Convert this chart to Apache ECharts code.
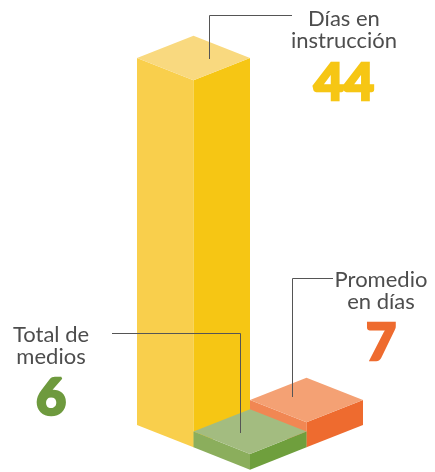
<!DOCTYPE html>
<html><head><meta charset="utf-8">
<script src="https://cdn.jsdelivr.net/npm/echarts@6/dist/echarts.min.js"></script>
<style>html,body{margin:0;padding:0;background:#fff}#c{width:435px;height:472px}</style>
</head><body><div id="c"></div>
<script>
// ---- data ----
const categories = ['Días en\ninstrucción', 'Promedio\nen días', 'Total de\nmedios'];
const values = [44, 7, 6];

// ---- layout (isometric cell of each bar) ----
const cellU = [0, 1, 1];
const cellV = [0, 1, 0];
const axisMin = 4.3;
const faceColors = [
  { top: '#F9D97F', left: '#F9CF4C', right: '#F6C614' },
  { top: '#F4A174', left: '#F18753', right: '#EE6B2F' },
  { top: '#A3BC80', left: '#8BAE5C', right: '#6F9F3D' }
];
const numColors = ['#F6C614', '#EE6B2F', '#6E9A3E'];
const labelPos = [
  { x: 344, textY: 8.3, numY: 83 },
  { x: 381, textY: 269.3, numY: 343 },
  { x: 51, textY: 324.3, numY: 398 }
];
const leaders = [
  [[209.5, 59], [209.5, 15.5], [292, 15.5]],
  [[292.5, 397], [292.5, 278.5], [333, 278.5]],
  [[112, 333.5], [240.5, 333.5], [240.5, 433]]
];

const chart = echarts.init(document.getElementById('c'), null, { renderer: 'canvas' });

function renderItem(params, api) {
  const i = params.dataIndex;
  const v = api.value(1);
  const pos = api.value(0);
  const w = api.size([1, 0])[0];
  const h = w * 0.395;
  const xL = api.coord([pos, axisMin])[0];
  const shift = (cellU[i] - cellV[i]) * h;
  const yG = api.coord([pos, axisMin])[1] + shift;
  const yT = api.coord([pos, v])[1] + shift;
  const c = faceColors[i];
  return {
    type: 'group',
    children: [
      { type: 'polygon', shape: { points: [[xL, yT], [xL + w, yT + h], [xL + w, yG + h], [xL, yG]] }, style: { fill: c.left } },
      { type: 'polygon', shape: { points: [[xL + w, yT + h], [xL + 2 * w, yT], [xL + 2 * w, yG], [xL + w, yG + h]] }, style: { fill: c.right } },
      { type: 'polygon', shape: { points: [[xL, yT], [xL + w, yT - h], [xL + 2 * w, yT], [xL + w, yT + h]] }, style: { fill: c.top } }
    ]
  };
}

const graphics = [];
categories.forEach((cat, i) => {
  graphics.push({
    type: 'polyline', silent: true, z: 100,
    shape: { points: leaders[i] },
    style: { stroke: '#555555', lineWidth: 1, fill: null }
  });
  graphics.push({
    type: 'text', z: 100,
    style: {
      text: cat, x: labelPos[i].x, y: labelPos[i].textY,
      align: 'center', verticalAlign: 'top',
      font: '22px Lato', lineHeight: 22, fill: '#4d4d4d'
    }
  });
  graphics.push({
    type: 'text', z: 100,
    style: {
      text: String(values[i]), x: labelPos[i].x, y: labelPos[i].numY,
      align: 'center', verticalAlign: 'middle',
      font: '900 52px Lato', fill: numColors[i],
      stroke: numColors[i], lineWidth: 2.5
    }
  });
});

chart.setOption({
  animation: false,
  grid: { left: 137, top: 58, width: 226, height: 367 },
  xAxis: { type: 'value', min: 0, max: 4, show: false },
  yAxis: { type: 'value', min: axisMin, max: 44, show: false },
  series: [{
    type: 'custom',
    renderItem: renderItem,
    clip: false,
    data: values.map((v, i) => [cellU[i] + cellV[i], v])
  }],
  graphic: graphics
});
</script>
</body></html>
